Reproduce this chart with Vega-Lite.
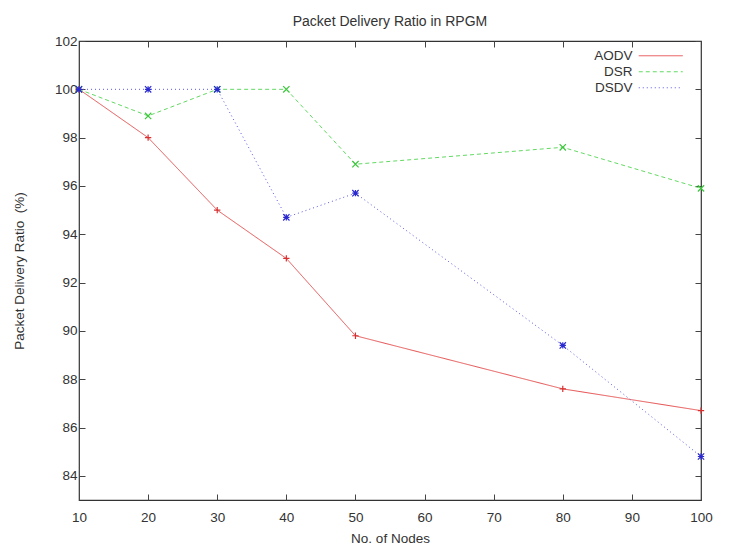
{
  "$schema": "https://vega.github.io/schema/vega-lite/v6.json",
  "width": 622,
  "height": 459,
  "autosize": {"type": "none"},
  "padding": {"left": 79, "top": 41, "right": 28, "bottom": 47},
  "background": "white",
  "title": {
    "text": "Packet Delivery Ratio in RPGM",
    "font": "Liberation Sans",
    "fontSize": 14,
    "fontWeight": "normal",
    "color": "#333",
    "anchor": "middle",
    "offset": 5
  },
  "config": {
    "view": {"stroke": "#333", "strokeWidth": 1.2},
    "axis": {
      "labelFont": "Liberation Sans",
      "labelFontSize": 13.5,
      "labelColor": "#333",
      "titleFont": "Liberation Sans",
      "titleFontSize": 13.5,
      "titleFontWeight": "normal",
      "titleColor": "#333",
      "domain": false,
      "grid": false,
      "labelFlush": false,
      "tickColor": "#444",
      "tickSize": -6
    },
    "legend": {
      "title": null,
      "orient": "top-right",
      "offset": 8,
      "padding": 0,
      "symbolType": "M-4,0H4M5.5,0",
      "symbolSize": 121,
      "symbolStrokeWidth": 1,
      "labelAlign": "right",
      "labelOffset": -35,
      "symbolOffset": 24,
      "labelFont": "Liberation Sans",
      "labelFontSize": 13.5,
      "labelColor": "#333",
      "rowPadding": 1
    }
  },
  "data": {
    "values": [
      {"nodes": 10, "pdr": 100, "protocol": "AODV"},
      {"nodes": 20, "pdr": 98, "protocol": "AODV"},
      {"nodes": 30, "pdr": 95, "protocol": "AODV"},
      {"nodes": 40, "pdr": 93, "protocol": "AODV"},
      {"nodes": 50, "pdr": 89.8, "protocol": "AODV"},
      {"nodes": 80, "pdr": 87.6, "protocol": "AODV"},
      {"nodes": 100, "pdr": 86.7, "protocol": "AODV"},
      {"nodes": 10, "pdr": 100, "protocol": "DSR"},
      {"nodes": 20, "pdr": 98.9, "protocol": "DSR"},
      {"nodes": 30, "pdr": 100, "protocol": "DSR"},
      {"nodes": 40, "pdr": 100, "protocol": "DSR"},
      {"nodes": 50, "pdr": 96.9, "protocol": "DSR"},
      {"nodes": 80, "pdr": 97.6, "protocol": "DSR"},
      {"nodes": 100, "pdr": 95.9, "protocol": "DSR"},
      {"nodes": 10, "pdr": 100, "protocol": "DSDV"},
      {"nodes": 20, "pdr": 100, "protocol": "DSDV"},
      {"nodes": 30, "pdr": 100, "protocol": "DSDV"},
      {"nodes": 40, "pdr": 94.7, "protocol": "DSDV"},
      {"nodes": 50, "pdr": 95.7, "protocol": "DSDV"},
      {"nodes": 80, "pdr": 89.4, "protocol": "DSDV"},
      {"nodes": 100, "pdr": 84.8, "protocol": "DSDV"}
    ]
  },
  "layer": [
    {
      "mark": {"type": "line", "strokeWidth": 1, "clip": true},
      "encoding": {
        "x": {
          "field": "nodes",
          "type": "quantitative",
          "scale": {"domain": [10, 100], "nice": false, "zero": false},
          "axis": {
            "orient": "bottom",
            "title": "No. of Nodes",
            "values": [10, 20, 30, 40, 50, 60, 70, 80, 90, 100],
            "labelPadding": 16,
            "titlePadding": 8
          }
        },
        "y": {
          "field": "pdr",
          "type": "quantitative",
          "scale": {"domain": [83, 102], "nice": false, "zero": false},
          "axis": {
            "orient": "left",
            "title": "Packet Delivery Ratio \u00a0(%)",
            "values": [84, 86, 88, 90, 92, 94, 96, 98, 100, 102],
            "labelPadding": 8,
            "titlePadding": 28
          }
        },
        "color": {
          "field": "protocol",
          "type": "nominal",
          "scale": {"domain": ["AODV", "DSR", "DSDV"], "range": ["#e65050", "#62da62", "#5858e6"]},
          "legend": {}
        },
        "strokeDash": {
          "field": "protocol",
          "type": "nominal",
          "scale": {"domain": ["AODV", "DSR", "DSDV"], "range": [[1, 0], [4, 3], [1, 3]]},
          "legend": {}
        }
      }
    },
    {
      "transform": [{"filter": "datum.protocol === 'AODV'"}],
      "mark": {"type": "point", "filled": false, "strokeWidth": 1.2, "size": 40, "opacity": 1, "stroke": "#d83030", "shape": "M-1,0H1M0,-1V1"},
      "encoding": {
        "x": {
          "field": "nodes",
          "type": "quantitative",
          "scale": {"domain": [10, 100], "nice": false, "zero": false},
          "axis": {"orient": "top", "title": null, "labels": false, "values": [10, 20, 30, 40, 50, 60, 70, 80, 90, 100]}
        },
        "y": {
          "field": "pdr",
          "type": "quantitative",
          "scale": {"domain": [83, 102], "nice": false, "zero": false},
          "axis": {"orient": "right", "title": null, "labels": false, "values": [84, 86, 88, 90, 92, 94, 96, 98, 100, 102]}
        }
      }
    },
    {
      "transform": [{"filter": "datum.protocol === 'DSR'"}],
      "mark": {"type": "point", "filled": false, "strokeWidth": 1.2, "size": 40, "opacity": 1, "stroke": "#3cc83c", "shape": "M-1,-1L1,1M-1,1L1,-1"},
      "encoding": {
        "x": {"field": "nodes", "type": "quantitative", "axis": null},
        "y": {"field": "pdr", "type": "quantitative", "axis": null}
      }
    },
    {
      "transform": [{"filter": "datum.protocol === 'DSDV'"}],
      "mark": {"type": "point", "filled": false, "strokeWidth": 1.2, "size": 40, "opacity": 1, "stroke": "#2a2ad0", "shape": "M-1,0H1M0,-1V1M-1,-1L1,1M-1,1L1,-1"},
      "encoding": {
        "x": {"field": "nodes", "type": "quantitative", "axis": null},
        "y": {"field": "pdr", "type": "quantitative", "axis": null}
      }
    }
  ],
  "resolve": {"axis": {"x": "independent", "y": "independent"}}
}
